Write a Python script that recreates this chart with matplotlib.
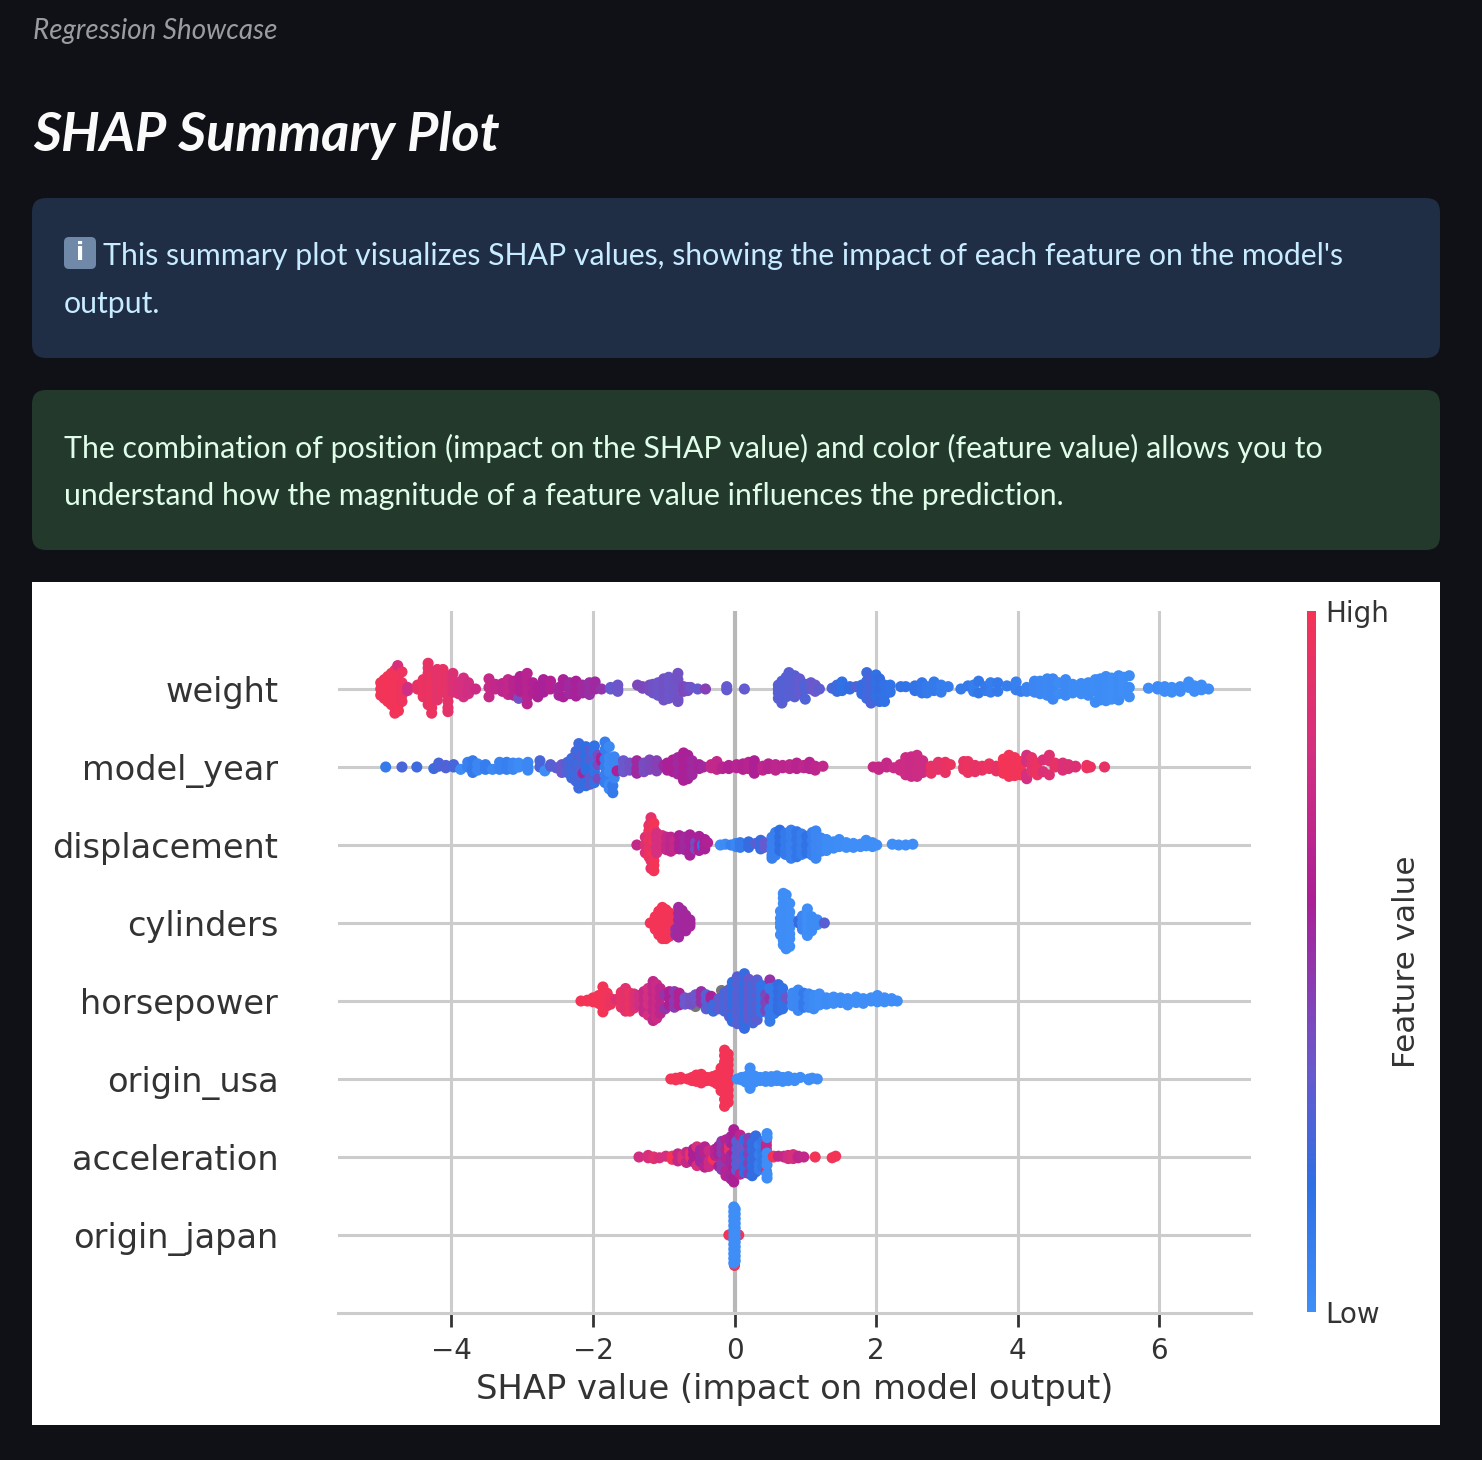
#!/usr/bin/env python3
"""SHAP summary plot page, redrawn from a screenshot of the dashboard"""

import matplotlib
matplotlib.use('Agg')
import matplotlib.pyplot as plt
from matplotlib.cm import ScalarMappable
from matplotlib.colors import LinearSegmentedColormap, Normalize
from matplotlib.patches import FancyBboxPatch, Rectangle

W, H = 1482, 1460
UI_FONT = 'Lato'

features = ['origin_japan', 'acceleration', 'origin_usa', 'horsepower',
            'cylinders', 'displacement', 'model_year', 'weight']
x_ticks = [-4, -2, 0, 2, 4, 6]

# each swarm column is (shap value, feature value, [row offsets])
weight = [
    (-5.0, 1.0, [0, .08, -.08]), (-4.95, .98, [.04, -.04, .12, -.12]),
    (-4.9, 1.0, [0, .08, -.08, .16, -.16]), (-4.85, 1.0, [.04, -.04, .12, -.12, .2, -.2]),
    (-4.8, .98, [0, .08, -.08, .16, -.16, .24, -.24, -.31]),
    (-4.75, 1.0, [.04, -.04, .12, -.12, .2, -.2, -.28]), (-4.76, .82, [.3]),
    (-4.7, .96, [0, .08, -.08, -.16, .22]), (-4.62, .78, [.02, -.02]),
    (-4.48, .92, [0, .05]), (-4.4, .95, [.06, -.06, .12, -.1]),
    (-4.33, .92, [0, .1, -.12, .2, .27, .33, -.2]), (-4.28, .95, [.04, -.05, .15, -.16, -.24, -.31]),
    (-4.2, .9, [0, .08, -.08, .16, -.14, .25]), (-4.12, .92, [.04, -.04, .12, .2, .25]),
    (-4.05, .9, [0, .08, -.08, .16, -.16, -.24, -.29]), (-3.98, .85, [.04, -.04, .12, .2]),
    (-3.9, .82, [0, .06, -.06]), (-3.83, .8, [.14, -.03, -.1]), (-3.76, .78, [.08, 0, -.06]),
    (-3.66, .75, [0]), (-3.47, .72, [.13, .02, -.1]), (-3.38, .7, [0, .06]),
    (-3.28, .68, [-.03, .07]), (-3.2, .7, [.12, -.07, 0]), (-3.12, .66, [.1, .03, -.08]),
    (-3.05, .38, [-.12]), (-3.03, .62, [.16, .05, -.03]), (-2.93, .66, [.2, .1, 0, -.1, -.19]),
    (-2.85, .62, [.08, -.05]), (-2.78, .6, [.03, -.1]), (-2.7, .58, [.06, -.04, .12]),
    (-2.6, .62, [0, .1]), (-2.48, .56, [.02, -.08]), (-2.42, .58, [.12, .04, -.1]),
    (-2.33, .55, [.02, -.06, .08]), (-2.24, .58, [.1, -.02, -.09]), (-2.15, .55, [.05, -.05]),
    (-2.05, .52, [.08, -.03, -.07]), (-1.97, .55, [.09, 0]), (-1.88, .5, [0]),
    (-1.75, .33, [0, .02]), (-1.65, .36, [.05, -.03, 0]), (-1.37, .42, [.05]),
    (-1.3, .42, [.03, .01]), (-1.2, .4, [.05, -.02]), (-1.15, .38, [.06, -.05, .01]),
    (-1.08, .36, [.08, 0, -.08]), (-1.0, .38, [.13, .04, -.04, -.14]),
    (-.93, .36, [.15, .06, -.06, -.12]), (-.85, .37, [.11, 0, -.1]),
    (-.8, .38, [.2, .12, -.13, -.16]), (-.72, .42, [.03, -.03]), (-.66, .4, [.02, -.02]),
    (-.62, .36, [.02]), (-.52, .34, [0]), (-.41, .45, [0]), (-.11, .33, [.03, -.01]),
    (.14, .33, [0]),
    (.62, .3, [.05, -.05, 0, -.12]), (.67, .3, [.1, -.18, .02, -.08]), (.73, .28, [.15, .06, -.03, -.1]),
    (.77, .3, [.21, .12, 0, -.08]), (.85, .3, [.17, .08, -.04, -.1]), (.92, .33, [.13, .03, -.06]),
    (1.0, .27, [.06, -.13, 0]), (1.08, .33, [.08, 0]), (1.14, .35, [.05, -.03]), (1.2, .32, [0]),
    (1.38, .25, [.01]), (1.45, .22, [.05, -.03]), (1.52, .17, [.09, .02, -.02]),
    (1.63, .2, [.03, 0]), (1.72, .28, [.03]), (1.8, .2, [.05, -.06]),
    (1.87, .22, [.21, .1, -.03, -.12]), (1.93, .26, [.15, .04, -.08, -.18]),
    (2.0, .17, [.18, .08, -.02, -.1]), (2.05, .2, [.13, 0, -.16]), (2.12, .16, [.05, -.08, -.16]),
    (2.2, .15, [.05, -.04]), (2.35, .15, [.03]), (2.42, .15, [.03]), (2.55, .15, [.04, -.02]),
    (2.65, .14, [0, .08, -.05]), (2.72, .12, [.03, -.05]), (2.82, .12, [.09, -.02]),
    (2.92, .1, [.05, -.04]), (3.02, .1, [.03]), (3.2, .12, [0]), (3.3, .12, [.04]),
    (3.38, .1, [.05, -.03]), (3.45, .13, [.1, -.05]), (3.55, .12, [.03, -.02]),
    (3.62, .1, [.08, -.04]), (3.72, .12, [.08, -.03]), (3.85, .1, [.04]),
    (3.98, .08, [.09, 0, -.01]), (4.05, .1, [-.03]), (4.13, .06, [.02, -.03]),
    (4.24, .05, [.1, -.04, .02]), (4.32, .04, [.1, 0, -.06]), (4.42, .03, [.13, .03, -.08]),
    (4.5, .04, [.13, .04, -.05, -.13]), (4.58, .02, [.08, -.06]), (4.68, .03, [.12, .02, -.08]),
    (4.78, .02, [.06, -.05]), (4.9, .02, [.07, -.06, .01]), (5.0, .02, [.08, -.08, 0]),
    (5.1, .01, [.12, .04, -.03, -.17]), (5.17, .02, [.13, .05, -.1, -.14]), (5.25, .01, [.16, .07, -.03, -.15]),
    (5.33, .0, [.14, .04, -.06, -.13]), (5.43, .02, [.17, .08, 0, -.1, -.14]), (5.5, .0, [.15, .05, -.05]),
    (5.58, .01, [.17, .02, -.1]), (5.85, .0, [.01]), (5.98, .02, [.03, 0]), (6.08, .0, [-.03, .03]),
    (6.18, .0, [.02, -.04]), (6.3, .01, [.03, -.03]), (6.42, .0, [.09, .02]),
    (6.5, .0, [.04, -.03]), (6.6, .0, [.05, -.01]), (6.7, .0, [0]),
]

model_year = [
    (-4.93, .12, [0]), (-4.7, .25, [0]), (-4.49, .22, [0]), (-4.25, .22, [-.02]),
    (-4.18, .25, [.05, .01]), (-4.08, .28, [.02, -.01]), (-3.97, .25, [.0, .03]), (-3.87, .02, [-.03]),
    (-3.77, .08, [.06, 0]), (-3.7, .12, [.08, -.02, -.07]), (-3.63, .05, [.04, -.04]),
    (-3.52, .1, [.03, -.03]), (-3.42, .03, [-.03]), (-3.32, .06, [.06, 0, -.03]),
    (-3.22, .08, [.06, -.03]), (-3.13, .05, [.05, -.03]), (-3.05, .02, [.05, 0]),
    (-2.92, .04, [.06, 0, -.04]), (-2.75, .25, [.08, 0]), (-2.68, .01, [-.05]),
    (-2.6, .3, [.01, .03]), (-2.52, .3, [-.01]), (-2.44, .35, [.03, -.04, -.07]),
    (-2.36, .28, [.06, 0, -.07]), (-2.3, .22, [.11, .05, -.03, -.1, -.14]), (-2.24, .25, [.2, .12, 0, -.18]),
    (-2.2, .22, [.3, .22, .06, -.08, -.18, -.27]), (-2.17, .28, [.13, -.02, -.12]), (-2.14, .56, [-.08]),
    (-2.1, .18, [.26, .14, .05, -.04, -.2, -.24]), (-2.04, .3, [.22, .1, -.13, -.22]),
    (-1.98, .16, [.27, .18, .03, -.06, -.2]), (-1.93, .4, [.15, .03, -.15]), (-1.88, .58, [.12, .08]),
    (-1.83, .1, [.32, .22, .1, 0, -.1, -.2]), (-1.77, .03, [.26, .12, .03, -.06, -.22, -.28]),
    (-1.72, .12, [-.33, -.24]), (-1.7, .05, [.13, .05, -.14]), (-1.66, .58, [-.05]),
    (-1.57, .35, [.08, 0, -.06]), (-1.48, .38, [.05, -.04]), (-1.38, .55, [.08, -.02, -.08]),
    (-1.28, .4, [.05, -.06, .01]), (-1.2, .42, [.09, -.03]), (-1.1, .45, [.08, .01, -.05]),
    (-1.0, .55, [.02]), (-.95, .58, [.05, -.04]), (-.87, .6, [.09, -.02, -.06]),
    (-.8, .55, [.12, .04, -.09]), (-.72, .6, [.18, .1, 0, -.1, -.17]), (-.66, .58, [.15, .05, -.06, -.15]),
    (-.6, .55, [.08, -.04, -.1]), (-.5, .57, [.03, -.02]), (-.44, .55, [0]),
    (-.33, .7, [.03, -.01]), (-.25, .7, [.07, -.03]), (-.17, .65, [0, -.02]), (-.08, .62, [.02, -.02]),
    (.03, .65, [.03, -.01]), (.12, .63, [.04, -.03]), (.2, .66, [.06, -.02]), (.28, .6, [.08, -.08, 0]),
    (.4, .68, [.01, -.04]), (.48, .66, [.04, -.02]), (.58, .68, [.03, -.04]), (.68, .67, [.02, -.01]),
    (.78, .68, [.03, -.02]), (.88, .66, [.05, -.02]), (.98, .68, [.02, -.01]), (1.06, .66, [.06, -.02]),
    (1.14, .68, [.01, -.04]), (1.25, .7, [.01]), (1.96, .72, [0]), (2.04, .72, [-.03, 0]),
    (2.15, .72, [.05, 0]), (2.25, .74, [-.01]), (2.34, .75, [.03, -.04]), (2.42, .76, [.12, .05, -.04, -.1]),
    (2.5, .74, [.13, .04, -.06, -.12]), (2.58, .76, [.15, .05, -.05, -.12]), (2.66, .76, [.08, -.02, -.07]),
    (2.78, .92, [.01, -.08]), (2.88, .9, [.06, -.03]), (2.98, .93, [.06, 0, -.07]), (3.05, .95, [.03]),
    (3.24, .93, [.07, 0, -.03]), (3.3, .95, [.07, -.03, -.07]), (3.4, .92, [.02, -.06]), (3.5, .93, [.01, -.04]),
    (3.6, .95, [.04, -.02]), (3.7, .92, [.01, -.05]), (3.8, 1.0, [.1, .02, -.08]), (3.88, 1.0, [.15, .06, -.03, -.12]),
    (3.96, .98, [.12, .03, -.07, -.11]), (4.04, 1.0, [.07, -.02, -.1]), (4.13, .8, [.15, .07, -.15, -.09]),
    (4.2, .9, [.12, .02, -.06]), (4.28, .95, [.05, -.1, -.03]), (4.36, .84, [.09, -.06]),
    (4.45, .86, [.15, .08, -.1]), (4.53, .92, [.05, 0]), (4.64, .84, [.05, -.04]), (4.72, .85, [.03, -.02]),
    (4.82, .85, [0, .01]), (4.98, .95, [.02, -.01]), (5.03, .95, [0]), (5.23, .92, [0]),
]

displacement = [
    (-1.38, .7, [0]), (-1.26, .85, [.1, 0, -.1]), (-1.21, .95, [.25, .18, .06, -.05, -.15]),
    (-1.18, .9, [.35, .3, .12, 0, -.2, -.3]), (-1.14, 1.0, [.28, .2, .05, -.12, -.2, -.26, -.33]),
    (-1.1, .8, [.15, .07, -.02, -.1]), (-1.02, .82, [.06, -.04, .12]), (-.96, .72, [.1, -.06, 0]),
    (-.9, .68, [.1, 0, -.08]), (-.85, .72, [.05, -.05]), (-.78, .6, [.12, .02, -.05]),
    (-.7, .55, [.08, 0, -.06, .1]), (-.63, .58, [.13, .04, -.08, -.13]), (-.55, .4, [-.05, .03]),
    (-.5, .58, [.11, 0, -.07]), (-.45, .15, [.01, -.02]), (-.42, .58, [.07, -.05, .01]),
    (-.38, .62, [.03]), (-.2, .0, [0]), (-.13, .02, [.01]), (-.05, .08, [.0]),
    (.02, .05, [.02, -.02]), (.08, .12, [.03, -.03]), (.2, .2, [.04, -.03]), (.3, .3, [.02]),
    (.37, .2, [.06, -.05]), (.42, .33, [.03, -.03]), (.53, .08, [.1, .02, -.06, -.13, -.17]),
    (.58, .08, [.16, .08, 0, -.08, -.13]), (.64, .18, [.19, .1, .02, -.07]),
    (.72, .12, [.15, .05, -.05, -.12]), (.8, .08, [.19, .11, 0, -.08, -.17]),
    (.88, .14, [.17, .07, -.04, -.15]), (.95, .1, [.14, .05, -.05, -.12]),
    (1.02, .16, [.11, 0, -.1]), (1.1, .08, [.16, .06, -.05, -.13]), (1.15, .05, [.18, .1, 0, -.08, -.17]),
    (1.22, .04, [.09, .01, -.08]), (1.3, .02, [.07, -.03, -.07]), (1.4, .02, [.04, -.04]),
    (1.48, .01, [.07, -.02]), (1.58, .0, [.03, -.03]), (1.68, .0, [.02, -.03]),
    (1.78, .0, [.01, -.02]), (1.86, .0, [.06, -.01]), (1.95, .0, [.03, -.02]), (2.01, .0, [0]),
    (2.23, .0, [.01]), (2.32, .0, [0]), (2.42, .0, [0]), (2.52, .0, [.01]),
]

cylinders = [
    (-1.19, 1.0, [0]), (-1.12, 1.0, [.08, -.08, 0]), (-1.07, 1.0, [.15, .05, -.05, -.15]),
    (-1.02, 1.0, [.2, .12, .02, -.08, -.2]), (-.97, 1.0, [.17, .07, -.04, -.14, -.2]),
    (-.92, 1.0, [.13, .02, -.08, -.17]), (-.87, .98, [.05, -.05]), (-.83, .52, [-.15, -.08]),
    (-.79, .55, [.2, .12, .04, -.05, -.12, -.18]), (-.74, .55, [.16, .08, -.02, -.1]),
    (-.69, .56, [.1, 0, -.1]), (-.63, .56, [0, .04, -.04]),
    (.65, .0, [.06, -.05, 0, .15, -.15]), (.69, .0, [.32, .38, .25, .1, -.1, -.22, -.28]),
    (.73, .01, [.36, .28, .18, .03, -.03, -.18, -.26, -.33]), (.78, .0, [.25, .14, .06, -.06, -.14, -.2, -.3]),
    (.91, .2, [0, .03]), (.96, .05, [.09, 0, -.08]), (1.03, .0, [.18, .1, .02, -.07, -.16]),
    (1.09, .02, [.08, -.01, -.1]), (1.17, .02, [.04, -.02]), (1.27, .3, [0]),
]

horsepower = [
    (-2.17, 1.0, [0]), (-2.08, 1.0, [.0, .01]), (-2.0, 1.0, [-.01, .04]), (-1.92, 1.0, [.07, -.03]),
    (-1.86, 1.0, [.18, .09, 0, -.08, -.14]), (-1.8, .98, [.1, .02, -.06]), (-1.75, .95, [.03, -.04]),
    (-1.67, .85, [.02]), (-1.6, .93, [.11, .02, -.08]), (-1.54, .88, [.16, .07, -.06, -.13]),
    (-1.48, .95, [.1, -.03, -.13]), (-1.42, .85, [.09, 0, -.09]), (-1.35, .78, [.07, -.05]),
    (-1.28, .72, [.12, .02, -.09, -.14]), (-1.22, .8, [.16, .06, -.04, -.18]), (-1.15, .7, [.25, .18, .09, -.02, -.12, -.25]),
    (-1.1, .75, [.21, .12, .03, -.08, -.17, -.22]), (-1.05, .68, [.16, .05, -.06, -.16]),
    (-.98, .5, [.08, -.1]), (-.92, .6, [.12, .03, -.05]), (-.85, .48, [.12, -.08, 0]),
    (-.78, .62, [.04, -.05, .1]), (-.7, .35, [-.04, .04]), (-.62, .38, [.04, -.04]), (-.55, .36, [.08, 0]),
    (-.47, .52, [-.02, .12, .06]), (-.4, .3, [-.1, .08, 0]), (-.33, .58, [.03, .06]),
    (-.3, .22, [-.13, -.05]), (-.22, .32, [.03, -.1]), (-.14, .25, [.11, .04, -.06, -.13]),
    (-.07, .3, [.15, .07, 0, -.07, -.2]), (-.03, .18, [.24, .14, .06, -.05, -.2, -.26]),
    (.04, .3, [.31, .21, .1, .02, -.08, -.17, -.29]), (.09, .28, [.26, .16, .05, -.05, -.14, -.25]),
    (.14, .2, [.35, .22, .12, .03, -.08, -.18, -.28, -.35]), (.2, .34, [.28, .16, .06, -.04, -.13, -.22]),
    (.26, .24, [.2, .1, 0, -.1, -.17, -.28]), (.32, .3, [.27, .18, .08, -.04, -.14, -.24]),
    (.38, .15, [.2, .12, .02, -.07, -.14]), (.44, .42, [.08, -.02, -.12]),
    (.5, .5, [.27, .03]), (.5, .12, [.16, -.1, -.2, -.26]), (.56, .12, [.17, .09, 0, -.08, -.16]),
    (.62, .2, [.21, .12, .02, -.06, -.12]), (.68, .16, [.16, .07, -.03, -.1]), (.73, .36, [.04]),
    (.82, .03, [.1, .02, -.06]), (.9, .04, [.14, .05, -.05, -.12]), (.98, .12, [.1, -.02, -.08]),
    (1.05, .04, [.09, .02, -.08]), (1.12, .02, [.07, -.03, -.1]), (1.2, .0, [.09, .02, -.05]),
    (1.3, .02, [.04, -.04]), (1.4, .0, [.05, -.03]), (1.5, .01, [.04, -.02]), (1.6, .0, [.03, -.05]),
    (1.72, .0, [.05, -.02]), (1.82, .0, [.03, -.03]), (1.93, .0, [.04, 0]), (2.02, .0, [.07, -.01]),
    (2.12, .0, [.04, -.01]), (2.22, .0, [.0, .03]), (2.3, .0, [0]),
]
# grey dots in this row are missing feature values
horsepower_missing = [(-.56, -.07), (-.19, .14)]

origin_usa = [
    (-.9, 1.0, [0]), (-.83, 1.0, [.01, -.01]), (-.76, 1.0, [0, .02]), (-.66, 1.0, [0]),
    (-.6, 1.0, [.02, -.02]), (-.54, 1.0, [.05, -.03]), (-.47, 1.0, [.06, -.05, 0]), (-.39, 1.0, [.02, -.02]),
    (-.31, 1.0, [.03, -.03]), (-.25, 1.0, [.05, -.06, 0]),
    (-.19, 1.0, [.14, .07, 0, -.07, -.15]), (-.14, 1.0, [.37, .3, .22, .14, .06, -.02, -.1, -.18, -.26, -.35]),
    (-.09, 1.0, [.32, .25, .18, .1, .02, -.06, -.14, -.22, -.3]),
    (.04, .0, [.0]), (.1, .0, [.02, -.01]), (.16, .0, [.03, -.04]), (.22, .0, [.14, .07, 0, -.06, -.12]),
    (.28, .0, [.04, -.04]), (.36, .0, [.02, -.02]), (.44, .0, [.03, -.03]), (.52, .0, [.03, -.03]),
    (.6, .0, [.04, -.02]), (.68, .0, [.02, -.03]), (.76, .0, [.03, -.02]), (.85, .0, [.01, -.02]),
    (.93, .0, [.02]), (1.05, .0, [.0, -.01]), (1.1, .0, [.01]), (1.17, .0, [0]),
]

acceleration = [
    (-1.35, .78, [0]), (-1.22, .82, [.02, -.01]), (-1.14, .88, [.0, -.02]), (-1.06, .82, [-.01]), (-.97, .8, [.01]),
    (-.88, 1.0, [.01, -.03]), (-.8, .7, [.04, -.05]), (-.73, .85, [.02, -.03]), (-.68, .72, [.06, -.07]),
    (-.62, .95, [.05, 0]), (-.58, .6, [.1, .03, -.06]), (-.53, .82, [.13, -.11]), (-.48, .55, [.09, .01, -.06]),
    (-.42, .65, [.13, .05, -.13]), (-.36, .75, [.08, -.05, -.12]), (-.3, 1.0, [-.03]), (-.27, .65, [.1, .02]),
    (-.22, .58, [.14, .04, -.12]), (-.18, .48, [.2, .12, .05, -.08, -.16]), (-.12, .65, [.22, .1, -.02, -.18, -.24]),
    (-.07, .9, [.14, .08]), (-.05, .55, [.26, .18, .02, -.08, -.22, -.28]), (-.01, .6, [.35, .27, .16, .05, -.14, -.25, -.32]),
    (.03, .3, [.2, .1, 0, -.09, -.17]), (.08, .68, [.28, -.22]), (.1, .35, [.14, .05, -.05]),
    (.14, .2, [.22, .02, -.11, -.2]), (.2, .45, [.24, .15, .04, -.08, -.21]),
    (.25, .18, [.18, .09, -.03, -.12, -.24]), (.3, .2, [.27, .18, .06, -.06, -.19]),
    (.35, .1, [.15, .03, -.09, -.16]), (.4, .13, [.2, .07, -.04, -.13]),
    (.45, .85, [.2, -.18]), (.45, .7, [.1, .15]), (.46, .0, [.3, .25, .05, -.03, -.1, -.22, -.27]),
    (.55, 1.0, [0, .01]), (.62, .7, [.01]), (.7, .72, [.0, .01]), (.76, .78, [.02, -.02]),
    (.83, .82, [.03, -.02]), (.9, .68, [.01, -.01]), (.98, .7, [.0]), (1.14, 1.0, [0]),
    (1.38, 1.0, [-.01]), (1.43, 1.0, [.01]),
]

origin_japan = [
    (-.08, 1.0, [0]), (.06, 1.0, [0]), (.0, 1.0, [-.39]),
    (-.01, .0, [.36, .3, .24, .18, .12, .06, 0, -.06, -.12, -.18, -.24, -.3, -.36]),
    (.01, .0, [.33, .27, .21, .15, .09, .03, -.03, -.09, -.15, -.21, -.27, -.33]),
]

rows = [origin_japan, acceleration, origin_usa, horsepower,
        cylinders, displacement, model_year, weight]

fig = plt.figure(figsize=(W / 100, H / 100), dpi=100, facecolor='#0f1116')

# page layer in pixel coords
page = fig.add_axes([0, 0, 1, 1])
page.set_xlim(0, W)
page.set_ylim(H, 0)
page.axis('off')


def box(x0, y0, x1, y1, color, r=14):
    page.add_patch(FancyBboxPatch((x0 + r, y0 + r), x1 - x0 - 2 * r, y1 - y0 - 2 * r,
                                  boxstyle=f'round,pad={r},rounding_size={r}',
                                  facecolor=color, edgecolor='none'))


def ui_text(x, y, s, size, color, **kw):
    page.text(x, y, s, fontsize=size, color=color, family=UI_FONT, va='center', ha='left', **kw)


ui_text(33, 31, 'Regression Showcase', 20, '#9a9ca3', style='italic')
ui_text(33, 135, 'SHAP Summary Plot', 39, '#fafafa', style='italic', weight='bold')

box(32, 198, 1440, 358, '#1f2d45')
box(64, 237, 96, 269, '#7189a8', r=5)
page.text(80, 253, 'i', fontsize=17, color='white', family='DejaVu Sans', weight='bold',
          ha='center', va='center')
ui_text(103, 256, "This summary plot visualizes SHAP values, showing the impact of each feature on the model's",
        21.8, '#c7ebff')
ui_text(64, 304, 'output.', 21.8, '#c7ebff')

box(32, 390, 1440, 550, '#23392c')
ui_text(64, 448, 'The combination of position (impact on the SHAP value) and color (feature value) allows you to',
        21.8, '#dffde9')
ui_text(64, 496, 'understand how the magnitude of a feature value influences the prediction.',
        21.8, '#dffde9')

page.add_patch(Rectangle((32, 582), 1408, 843, facecolor='white', edgecolor='none'))

# plot axes
ax = fig.add_axes([338 / W, 1 - 1313 / H, (1251 - 338) / W, (1313 - 611) / H])
ax.set_facecolor('none')
ax.set_xlim(-5.604, 7.30)
ax.set_ylim(-1, 8)

cmap = LinearSegmentedColormap.from_list('red_blue', [
    (0, '#3f8ef7'), (.18, '#2f6fe4'), (.35, '#6a58cc'), (.59, '#ab1f96'),
    (.8, '#d42f80'), (1, '#f33456')])

ax.grid(True, color='#cccccc', linewidth=2.2, zorder=0)
ax.set_axisbelow(True)
ax.axvline(0, color='#b8b8b8', linewidth=3, zorder=1)

for row, columns in enumerate(rows):
    xs, ys, colors = [], [], []
    for shap_value, feature_value, offsets in columns:
        for off in offsets:
            xs.append(shap_value)
            ys.append(row + off)
            colors.append(cmap(feature_value))
    ax.scatter(xs, ys, s=64, color=colors, linewidths=0, zorder=3)

ax.scatter([p[0] for p in horsepower_missing],
           [features.index('horsepower') + p[1] for p in horsepower_missing],
           s=64, color='#777777', linewidths=0, zorder=2)

ax.set_yticks(range(len(features)))
ax.set_yticklabels(features, fontsize=24.2, color='#333333')
ax.set_xticks(x_ticks)
ax.set_xticklabels([f'\u2212{abs(t)}' if t < 0 else str(t) for t in x_ticks], fontsize=20, color='#333333')
ax.tick_params(axis='y', length=0, pad=43)
ax.tick_params(axis='x', length=10, width=2, color='#333333', pad=7)
ax.set_xlabel('SHAP value (impact on model output)', fontsize=24.3, color='#333333', labelpad=6)
for side in ['top', 'left', 'right']:
    ax.spines[side].set_visible(False)
ax.spines['bottom'].set_color('#cccccc')
ax.spines['bottom'].set_linewidth(2.2)

# colour bar
cax = fig.add_axes([1307 / W, 1 - 1312 / H, 9 / W, 701 / H])
cb = fig.colorbar(ScalarMappable(Normalize(0, 1), cmap), cax=cax)
cb.outline.set_visible(False)
cb.set_ticks([0, 1])
cb.set_ticklabels(['Low', 'High'], fontsize=20, color='#333333')
cb.ax.tick_params(length=0, pad=7)
cb.set_label('Feature value', fontsize=22.4, color='#333333', labelpad=1.5)

fig.savefig('out.png', dpi=100, facecolor=fig.get_facecolor())
